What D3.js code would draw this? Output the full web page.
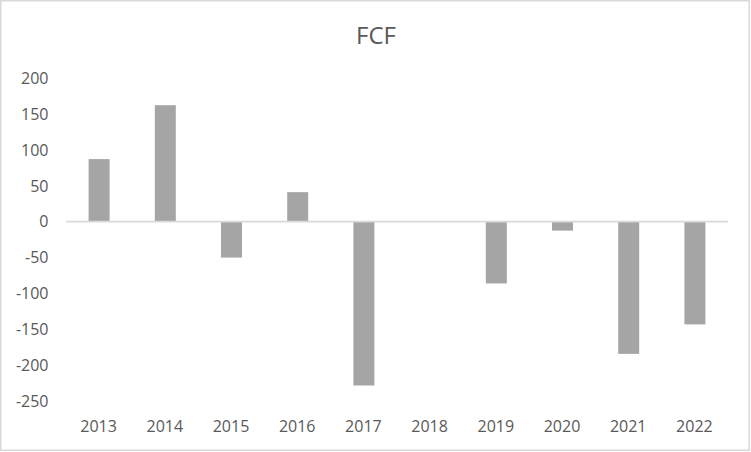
<!DOCTYPE html>
<html>
<head>
<meta charset="utf-8">
<script src="https://cdn.jsdelivr.net/npm/d3@7"></script>
<style>
  html, body { margin: 0; padding: 0; background: #fff; }
  svg { display: block; }
</style>
</head>
<body>
<svg id="chart" width="751" height="452"></svg>
<script>
const categories = ["2013","2014","2015","2016","2017","2018","2019","2020","2021","2022"];
const values = [87, 162, -50, 41, -228, 0, -86, -12.5, -184, -143];
const yTicks = [200, 150, 100, 50, 0, -50, -100, -150, -200, -250];
const title = "FCF";

const W = 751, H = 452;
const font = "'Open Sans', 'Liberation Sans', sans-serif";
const svg = d3.select("#chart");

svg.append("rect")
  .attr("x", 0.75).attr("y", 0.75)
  .attr("width", W - 2.5).attr("height", H - 2.5)
  .attr("fill", "#fff").attr("stroke", "#d9d9d9").attr("stroke-width", 1.5);

const x = d3.scaleBand().domain(categories).range([66, 728]).padding(0);
const y = d3.scaleLinear().domain([-250, 200]).range([401.3, 77.9]);

const barW = x.bandwidth() * 0.317;

svg.append("g").selectAll("rect")
  .data(categories.map((c, i) => ({c, v: values[i]})))
  .join("rect")
  .attr("x", d => x(d.c) + x.bandwidth() / 2 - barW / 2)
  .attr("width", barW)
  .attr("y", d => y(Math.max(0, d.v)))
  .attr("height", d => Math.abs(y(d.v) - y(0)))
  .attr("fill", "#a5a5a5");

// zero line
svg.append("line")
  .attr("x1", 66).attr("x2", 728)
  .attr("y1", y(0)).attr("y2", y(0))
  .attr("stroke", "#d9d9d9").attr("stroke-width", 1.8);

// y tick labels
svg.append("g").selectAll("text")
  .data(yTicks)
  .join("text")
  .attr("x", 48.5)
  .attr("y", d => y(d) + 5.8)
  .attr("text-anchor", "end")
  .attr("font-family", font)
  .attr("font-size", 16)
  .attr("fill", "#595959")
  .text(d => d);

// x tick labels
svg.append("g").selectAll("text")
  .data(categories)
  .join("text")
  .attr("x", d => x(d) + x.bandwidth() / 2 - 0.5)
  .attr("y", 432.3)
  .attr("text-anchor", "middle")
  .attr("font-family", font)
  .attr("font-size", 16)
  .attr("fill", "#595959")
  .text(d => d);

// title
svg.append("text")
  .attr("x", 376)
  .attr("y", 44.3)
  .attr("text-anchor", "middle")
  .attr("font-family", font)
  .attr("font-size", 24)
  .attr("fill", "#595959")
  .text(title);
</script>
</body>
</html>
